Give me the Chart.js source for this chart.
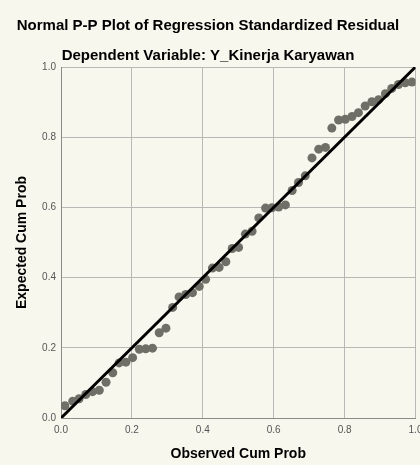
<!DOCTYPE html>
<html>
<head>
<meta charset="utf-8">
<title>Normal P-P Plot</title>
<script src="https://cdn.jsdelivr.net/npm/chart.js@4.4.1/dist/chart.umd.min.js"></script>
<style>
    html, body { margin: 0; padding: 0; background: #f7f7ee; }
</style>
</head>
<body>
<canvas id="ppChart" width="420" height="465"></canvas>
<script>
// --- Dados ---
const observedCumProb = [
    0.011, 0.033, 0.051, 0.070, 0.089, 0.108, 0.127, 0.146, 0.164, 0.183,
    0.202, 0.221, 0.239, 0.258, 0.277, 0.296, 0.315, 0.333, 0.352, 0.371,
    0.390, 0.408, 0.427, 0.446, 0.465, 0.483, 0.501, 0.520, 0.539, 0.558,
    0.577, 0.595, 0.614, 0.633, 0.652, 0.670, 0.689, 0.708, 0.727, 0.746,
    0.764, 0.783, 0.802, 0.821, 0.839, 0.858, 0.877, 0.896, 0.915, 0.933,
    0.952, 0.971, 0.990
];
const expectedCumProb = [
    0.035, 0.048, 0.055, 0.067, 0.075, 0.079, 0.102, 0.129, 0.157, 0.159,
    0.172, 0.196, 0.197, 0.199, 0.243, 0.256, 0.315, 0.345, 0.352, 0.357,
    0.375, 0.395, 0.427, 0.429, 0.445, 0.483, 0.486, 0.524, 0.532, 0.570,
    0.598, 0.599, 0.601, 0.607, 0.648, 0.671, 0.690, 0.741, 0.766, 0.771,
    0.826, 0.849, 0.851, 0.859, 0.870, 0.889, 0.901, 0.907, 0.924, 0.939,
    0.950, 0.955, 0.957
];
// Linha de referência (diagonal)
const refLineX = [0, 1];
const refLineY = [0, 1];
// Marcas dos eixos
const tickValues = [0, 0.2, 0.4, 0.6, 0.8, 1.0];

const colors = {
    background: '#f7f7ee',
    point: '#6f6f67',
    line: '#000000',
    grid: '#b8b8b4',
    axis: '#8a8a86',
    tickText: '#555555',
    text: '#000000'
};

const fontFamily = '"Liberation Sans", Arial, sans-serif';

// Pinta o fundo do canvas
const bgPlugin = {
    id: 'bgFill',
    beforeDraw(chart) {
        const c = chart.ctx;
        c.save();
        c.fillStyle = colors.background;
        c.fillRect(0, 0, chart.width, chart.height);
        c.restore();
    }
};

function fixedTicks(scale) {
    scale.ticks = tickValues.map(v => ({ value: v }));
}

const ctx = document.getElementById('ppChart');

new Chart(ctx, {
    type: 'scatter',
    data: {
        datasets: [
            {
                label: 'Residual',
                data: observedCumProb.map((x, i) => ({ x: x, y: expectedCumProb[i] })),
                backgroundColor: colors.point,
                borderWidth: 0,
                pointRadius: 4.5,
                pointHoverRadius: 4.5,
                order: 2
            },
            {
                label: 'Diagonal',
                data: refLineX.map((x, i) => ({ x: x, y: refLineY[i] })),
                showLine: true,
                borderColor: colors.line,
                borderWidth: 3,
                pointRadius: 0,
                fill: false,
                order: 1
            }
        ]
    },
    options: {
        responsive: false,
        animation: false,
        font: { family: fontFamily },
        layout: { padding: { top: 0, right: 4, bottom: 0, left: 0 } },
        scales: {
            x: {
                type: 'linear',
                position: 'bottom',
                min: 0,
                max: 1,
                afterBuildTicks: fixedTicks,
                afterFit(s) { s.height = 47; s.paddingLeft = 0; s.paddingRight = 0; },
                ticks: {
                    font: { family: fontFamily, size: 10 },
                    color: colors.tickText,
                    padding: 6,
                    maxRotation: 0,
                    autoSkip: false,
                    callback: v => Number(v).toFixed(1)
                },
                grid: { color: colors.grid, drawTicks: false },
                border: { color: colors.axis },
                title: {
                    display: true,
                    text: 'Observed Cum Prob',
                    color: colors.text,
                    font: { family: fontFamily, size: 14, weight: 'bold' },
                    padding: { top: 0, bottom: 2 }
                }
            },
            y: {
                type: 'linear',
                min: 0,
                max: 1,
                afterBuildTicks: fixedTicks,
                afterFit(s) { s.width = 61; s.paddingTop = 0; s.paddingBottom = 0; },
                ticks: {
                    font: { family: fontFamily, size: 10 },
                    color: colors.tickText,
                    padding: 5,
                    autoSkip: false,
                    callback: v => Number(v).toFixed(1)
                },
                grid: { color: colors.grid, drawTicks: false },
                border: { color: colors.axis },
                title: {
                    display: true,
                    text: 'Expected Cum Prob',
                    color: colors.text,
                    font: { family: fontFamily, size: 14, weight: 'bold' },
                    padding: { top: 14, bottom: 0 }
                }
            }
        },
        plugins: {
            legend: { display: false },
            tooltip: { enabled: false },
            title: {
                display: true,
                text: 'Normal P-P Plot of Regression Standardized Residual',
                color: colors.text,
                font: { family: fontFamily, size: 15, weight: 'bold' },
                padding: { top: 17, bottom: 12 }
            },
            subtitle: {
                display: true,
                text: 'Dependent Variable: Y_Kinerja Karyawan',
                color: colors.text,
                font: { family: fontFamily, size: 15, weight: 'bold' },
                padding: { top: 0, bottom: 2 }
            }
        }
    },
    plugins: [bgPlugin]
});
</script>
</body>
</html>
